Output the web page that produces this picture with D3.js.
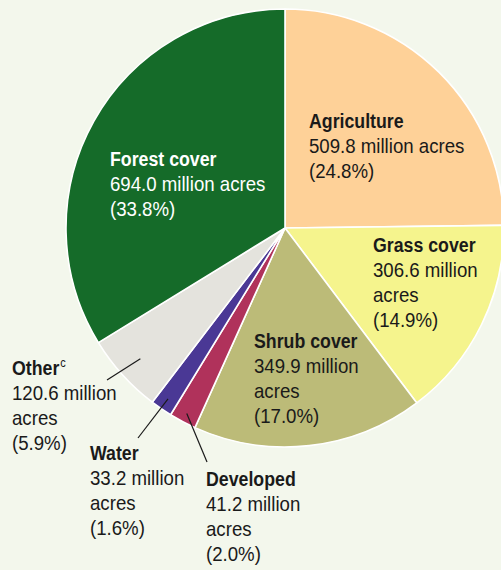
<!DOCTYPE html>
<html>
<head>
<meta charset="utf-8">
<script src="https://cdn.jsdelivr.net/npm/d3@7"></script>
<style>
  html, body { margin: 0; padding: 0; background: #f3f7ec; }
  svg { display: block; }
</style>
</head>
<body>
<svg id="chart" width="501" height="570"></svg>
<script>
// ---- data (clockwise from 12 o'clock) ----
const categories = ["Agriculture", "Grass cover", "Shrub cover", "Developed", "Water", "Other", "Forest cover"];
const acres = [509.8, 306.6, 349.9, 41.2, 33.2, 120.6, 694.0];       // million acres
const percents = [24.8, 14.9, 17.0, 2.0, 1.6, 5.9, 33.8];
const superscripts = ["", "", "", "", "", "c", ""];
// how each value line is broken
const valueLines = [
  ["509.8 million acres", "(24.8%)"],
  ["306.6 million", "acres", "(14.9%)"],
  ["349.9 million", "acres", "(17.0%)"],
  ["41.2 million", "acres", "(2.0%)"],
  ["33.2 million", "acres", "(1.6%)"],
  ["120.6 million", "acres", "(5.9%)"],
  ["694.0 million acres", "(33.8%)"]
];

// ---- styles / layout ----
const colors = ["#fed198", "#f5f48d", "#bcbb78", "#b0325b", "#4a3895", "#e4e3dd", "#156b29"];
const textColors = ["#1a1a1a", "#1a1a1a", "#1a1a1a", "#1a1a1a", "#1a1a1a", "#1a1a1a", "#ffffff"];
const cx = 285, cy = 228, radius = 219;
const lineH = 25;
const labelPos = [
  { x: 309, y: 128 },
  { x: 373, y: 252 },
  { x: 254, y: 348 },
  { x: 206, y: 486, leader: { r: 210, x: 207, y: 462 } },
  { x: 90,  y: 460, leader: { r: 207, x: 138, y: 438 } },
  { x: 12,  y: 375, leader: { r: 195, x: 107, y: 380 } },
  { x: 110, y: 166 }
];
const fontFamily = "'Liberation Sans', Arial, Helvetica, sans-serif";
const boldSize = 21, boldScale = 0.845;
const regSize = 20.5, regScale = 0.91;

const svg = d3.select("#chart");
svg.append("rect").attr("width", 501).attr("height", 570).attr("fill", "#f3f7ec");

const pie = d3.pie().sort(null).value(d => d).startAngle(0).endAngle(2 * Math.PI);
const arcs = pie(acres);
const arc = d3.arc().innerRadius(0).outerRadius(radius);

const g = svg.append("g").attr("transform", `translate(${cx},${cy})`);
g.selectAll("path.slice")
  .data(arcs)
  .join("path")
  .attr("class", "slice")
  .attr("d", arc)
  .attr("fill", (d, i) => colors[i])
  .attr("stroke", "#ffffff")
  .attr("stroke-width", 1.6)
  .attr("stroke-linejoin", "round");

// leader lines
arcs.forEach((d, i) => {
  const lp = labelPos[i].leader;
  if (!lp) return;
  const a = (d.startAngle + d.endAngle) / 2;
  const ix = cx + lp.r * Math.sin(a);
  const iy = cy - lp.r * Math.cos(a);
  svg.append("line")
    .attr("x1", ix).attr("y1", iy)
    .attr("x2", lp.x).attr("y2", lp.y)
    .attr("stroke", "#1a1a1a")
    .attr("stroke-width", 1.2);
});

// labels
categories.forEach((name, i) => {
  const p = labelPos[i];
  const col = textColors[i];
  const t = svg.append("text")
    .attr("transform", `translate(${p.x},${p.y}) scale(${boldScale},1)`)
    .attr("font-family", fontFamily)
    .attr("font-weight", "bold")
    .attr("font-size", boldSize)
    .attr("fill", col)
    .text(name);
  if (superscripts[i]) {
    t.append("tspan")
      .attr("font-weight", "normal")
      .attr("font-size", 13)
      .attr("dy", -8)
      .attr("dx", 1)
      .text(superscripts[i]);
  }
  valueLines[i].forEach((line, k) => {
    svg.append("text")
      .attr("transform", `translate(${p.x},${p.y + lineH * (k + 1)}) scale(${regScale},1)`)
      .attr("font-family", fontFamily)
      .attr("font-size", regSize)
      .attr("fill", col)
      .text(line);
  });
});
</script>
</body>
</html>
